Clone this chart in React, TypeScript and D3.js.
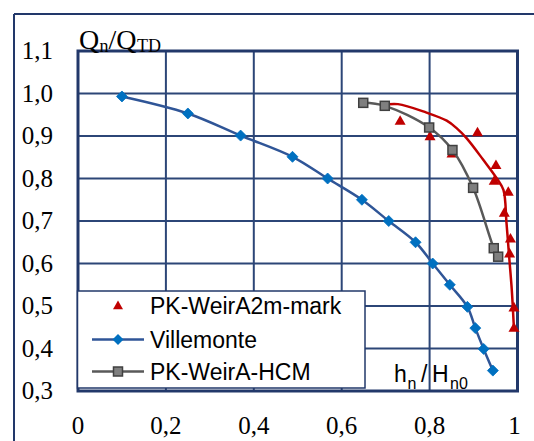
import React from "react";
import * as d3 from "d3";

const villemonteX = [0.1, 0.25, 0.37, 0.488, 0.568, 0.646, 0.707, 0.768, 0.807, 0.846, 0.886, 0.904, 0.923, 0.944];
const villemonteY = [0.993, 0.953, 0.901, 0.851, 0.8, 0.75, 0.7, 0.65, 0.6, 0.55, 0.498, 0.448, 0.399, 0.348];

const hcmX = [0.649, 0.698, 0.799, 0.852, 0.899, 0.946, 0.956];
const hcmY = [0.978, 0.971, 0.92, 0.867, 0.778, 0.636, 0.616];

const markX = [0.733, 0.801, 0.909, 0.851, 0.951, 0.947, 0.979, 0.97, 0.984, 0.982, 0.992, 0.992];
const markY = [0.936, 0.9, 0.909, 0.859, 0.832, 0.795, 0.769, 0.72, 0.659, 0.624, 0.497, 0.449];

const trendX = [0.694, 0.728, 0.793, 0.839, 0.862, 0.884, 0.922, 0.953, 0.968, 0.975, 0.981, 0.987, 0.992];
const trendY = [0.973, 0.975, 0.955, 0.936, 0.918, 0.895, 0.844, 0.8, 0.773, 0.695, 0.616, 0.538, 0.444];

const yTicks = [0.3, 0.4, 0.5, 0.6, 0.7, 0.8, 0.9, 1.0, 1.1];
const xTicks = [0, 0.2, 0.4, 0.6, 0.8, 1];
const xTickLabels = ["0", "0,2", "0,4", "0,6", "0,8", "1"];
const legendLabels = ["PK-WeirA2m-mark", "Villemonte", "PK-WeirA-HCM"];

const W = 534;
const H = 441;
const NAVY = "#22386a";
const GRID = "#2c4677";

export default function App() {
  const x = d3.scaleLinear().domain([0, 1]).range([78, 517.5]);
  const y = d3.scaleLinear().domain([0.3, 1.1]).range([391, 51]);

  const line = d3
    .line<[number, number]>()
    .x((d) => x(d[0]))
    .y((d) => y(d[1]))
    .curve(d3.curveCatmullRom.alpha(0.5));

  const vPts = villemonteX.map((v, i) => [v, villemonteY[i]] as [number, number]);
  const hPts = hcmX.map((v, i) => [v, hcmY[i]] as [number, number]);
  const tPts = trendX.map((v, i) => [v, trendY[i]] as [number, number]);
  const mPts = markX.map((v, i) => [v, markY[i]] as [number, number]);

  const tri = (cx: number, cy: number, s = 5) =>
    `M${cx},${cy - s} L${cx + s * 1.0},${cy + s * 0.75} L${cx - s * 1.0},${cy + s * 0.75} Z`;
  const diamond = (cx: number, cy: number, s = 5.5) =>
    `M${cx},${cy - s} L${cx + s},${cy} L${cx},${cy + s} L${cx - s},${cy} Z`;

  const fmt = (v: number) => d3.format(".1f")(v).replace(".", ",");

  const legendRows = [305.5, 339.5, 371.5];

  return (
    <svg
      width={W}
      height={H}
      style={{ position: "absolute", left: 0, top: 0, background: "#fff" }}
    >
      <rect x={0} y={0} width={W} height={H} fill="#fff" />
      {/* outer chart border */}
      <line x1={14} y1={14} x2={W} y2={14} stroke={NAVY} strokeWidth={2} />
      <line x1={14} y1={14} x2={14} y2={H} stroke={NAVY} strokeWidth={2} />

      {/* grid */}
      {yTicks.slice(1, -1).map((t) => (
        <line key={"gy" + t} x1={x(0)} x2={x(1)} y1={y(t)} y2={y(t)} stroke={GRID} strokeWidth={2} />
      ))}
      {xTicks.slice(1, -1).map((t) => (
        <line key={"gx" + t} x1={x(t)} x2={x(t)} y1={y(1.1)} y2={y(0.3)} stroke={GRID} strokeWidth={2} />
      ))}
      <rect
        x={x(0)}
        y={y(1.1)}
        width={x(1) - x(0)}
        height={y(0.3) - y(1.1)}
        fill="none"
        stroke={NAVY}
        strokeWidth={3}
      />

      {/* y tick labels */}
      {yTicks.map((t) => (
        <text
          key={"yl" + t}
          x={53}
          y={y(t)}
          dy="0.33em"
          textAnchor="end"
          fontFamily="'Liberation Serif', 'Times New Roman', serif"
          fontSize={25}
          fill="#000"
        >
          {fmt(t)}
        </text>
      ))}
      {/* x tick labels */}
      {xTicks.map((t, i) => (
        <text
          key={"xl" + t}
          x={x(t) - (i === xTicks.length - 1 ? 3 : 0)}
          y={434}
          textAnchor="middle"
          fontFamily="'Liberation Serif', 'Times New Roman', serif"
          fontSize={25}
          fill="#000"
        >
          {xTickLabels[i]}
        </text>
      ))}

      {/* axis titles */}
      <text fontFamily="'Liberation Serif', 'Times New Roman', serif" fill="#000">
        <tspan x={79} y={49} fontSize={28}>Q</tspan>
        <tspan x={99.5} y={52} fontSize={18}>n</tspan>
        <tspan x={108.5} y={49} fontSize={28}>/Q</tspan>
        <tspan x={137} y={52} fontSize={18}>TD</tspan>
      </text>
      <text fontFamily="'Liberation Sans', Arial, sans-serif" fill="#000">
        <tspan x={394} y={381.5} fontSize={23}>h</tspan>
        <tspan x={407.5} y={389} fontSize={16}>n</tspan>
        <tspan x={421} y={381.5} fontSize={23}>/</tspan>
        <tspan x={432} y={381.5} fontSize={23}>H</tspan>
        <tspan x={450} y={389} fontSize={16}>n0</tspan>
      </text>

      {/* red trend line */}
      <path d={line(tPts) || ""} fill="none" stroke="#c00000" strokeWidth={2.5} />

      {/* Villemonte */}
      <path d={line(vPts) || ""} fill="none" stroke="#2f5597" strokeWidth={2.5} />
      {vPts.map((p, i) => (
        <path key={"v" + i} d={diamond(x(p[0]), y(p[1]))} fill="#0070c0" stroke="#0070c0" strokeWidth={0.8} />
      ))}

      {/* red markers */}
      {mPts.map((p, i) => (
        <path key={"m" + i} d={tri(x(p[0]), y(p[1]), 5.5)} fill="#c00000" />
      ))}

      {/* HCM */}
      <path d={line(hPts) || ""} fill="none" stroke="#595959" strokeWidth={2.5} />
      {hPts.map((p, i) => (
        <rect
          key={"h" + i}
          x={x(p[0]) - 4.5}
          y={y(p[1]) - 4.5}
          width={9}
          height={9}
          fill="#7f7f7f"
          stroke="#404040"
          strokeWidth={1.5}
        />
      ))}

      {/* legend */}
      <rect x={77.5} y={291} width={287.5} height={97} fill="#fff" stroke={NAVY} strokeWidth={1.5} />
      <path d={tri(118, legendRows[0], 5)} fill="#c00000" />
      <line x1={92} x2={144} y1={legendRows[1]} y2={legendRows[1]} stroke="#2f5597" strokeWidth={2.5} />
      <path d={diamond(118, legendRows[1])} fill="#0070c0" />
      <line x1={92} x2={144} y1={legendRows[2]} y2={legendRows[2]} stroke="#595959" strokeWidth={2.5} />
      <rect x={113.5} y={legendRows[2] - 4.5} width={9} height={9} fill="#7f7f7f" stroke="#404040" strokeWidth={1.5} />
      {legendLabels.map((l, i) => (
        <text
          key={l}
          x={150}
          y={legendRows[i] + 8.3}
          fontFamily="'Liberation Sans', Arial, sans-serif"
          fontSize={23}
          fill="#000"
        >
          {l}
        </text>
      ))}
    </svg>
  );
}
